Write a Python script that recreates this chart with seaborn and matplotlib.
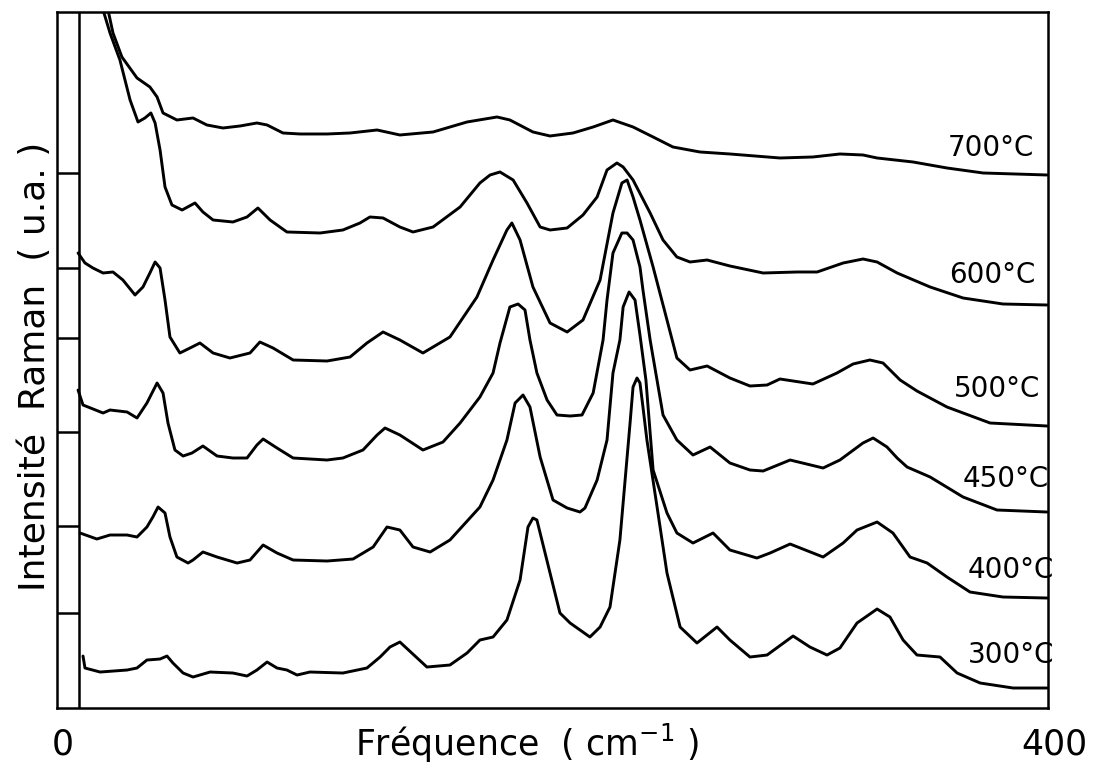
import pandas as pd
import matplotlib
matplotlib.use("Agg")
import matplotlib.pyplot as plt
import matplotlib.transforms as mtransforms
import seaborn as sns

# spectres Raman (fréquence en cm-1, intensité en u.a.)
freq_700 = [17.8, 20.6, 22.6, 26.2, 32.3, 37.5, 40.4, 42.8, 48.4, 54.9, 60.5, 67.0, 73.9, 80.7, 84.8,
            91.2, 98.1, 109.0, 118.3, 129.2, 138.4, 151.8, 165.5, 177.6, 182.8, 192.1, 199.0, 208.3,
            216.4, 224.4, 232.5, 240.6, 248.6, 259.5, 271.6, 291.8, 305.1, 316.0, 325.3, 331.0,
            345.5, 359.2, 373.8, 399.6]
int_700 = [728, 698, 675, 651, 630, 621, 611, 595, 588, 590, 583, 580, 582, 585, 583, 575, 574, 574,
           575, 578, 573, 576, 586, 591, 588, 576, 572, 575, 581, 588, 581, 571, 561, 556, 554, 550,
           551, 554, 553, 550, 546, 540, 535, 533]

freq_600 = [14.9, 18.6, 21.4, 25.4, 29.5, 32.7, 35.5, 37.9, 39.6, 41.6, 43.6, 46.4, 50.5, 55.7, 58.9,
            63.0, 71.0, 76.7, 81.1, 86.0, 92.8, 106.2, 115.4, 122.3, 126.3, 131.6, 138.4, 143.7,
            151.8, 162.7, 170.7, 174.8, 178.8, 184.1, 189.7, 195.0, 199.0, 205.9, 212.3, 218.0,
            222.0, 226.0, 228.5, 232.5, 239.4, 244.6, 250.2, 255.5, 262.4, 271.6, 285.0, 298.7,
            306.8, 317.3, 325.3, 331.0, 339.1, 352.4, 365.7, 381.8, 399.6]
int_600 = [728, 698, 675, 648, 608, 586, 590, 595, 585, 558, 521, 503, 498, 505, 496, 488, 486, 491,
           500, 488, 476, 475, 478, 485, 491, 490, 481, 476, 481, 501, 525, 533, 536, 528, 505, 481,
           478, 480, 493, 511, 538, 545, 541, 528, 495, 468, 451, 446, 448, 442, 435, 436, 436, 445,
           449, 446, 435, 421, 410, 404, 403]

freq_500 = [8.5, 11.3, 14.5, 18.6, 22.6, 26.6, 31.5, 34.7, 37.5, 39.6, 41.6, 43.6, 45.6, 49.6, 53.7,
            57.7, 63.0, 69.8, 77.9, 81.9, 87.2, 95.3, 109.0, 118.3, 125.1, 131.6, 138.4, 147.7,
            158.6, 169.5, 176.0, 181.6, 183.6, 186.9, 192.1, 199.0, 205.9, 212.3, 219.2, 224.4,
            228.0, 230.1, 232.5, 235.3, 240.6, 246.2, 250.2, 255.5, 262.4, 271.6, 279.7, 286.6,
            291.8, 305.1, 314.8, 321.3, 328.1, 333.4, 340.3, 347.1, 359.2, 376.6, 399.6]
int_500 = [455, 445, 440, 435, 436, 428, 413, 421, 435, 446, 440, 408, 371, 355, 360, 365, 355, 350,
           355, 366, 360, 348, 347, 351, 365, 376, 368, 355, 371, 411, 448, 478, 485, 468, 421, 385,
           376, 388, 428, 495, 525, 528, 511, 488, 441, 388, 350, 338, 342, 330, 322, 323, 329, 324,
           335, 344, 348, 345, 328, 317, 301, 285, 282]

freq_450 = [8.5, 10.5, 18.6, 21.4, 28.3, 32.3, 36.3, 40.4, 42.8, 44.8, 47.6, 50.9, 54.5, 58.9, 64.6,
            71.0, 76.7, 80.7, 83.2, 88.8, 95.3, 109.0, 115.4, 123.5, 129.2, 132.4, 138.4, 147.7,
            155.8, 162.7, 170.7, 176.0, 178.8, 182.8, 186.1, 188.9, 190.9, 193.7, 197.8, 201.8,
            207.1, 211.9, 216.4, 220.4, 222.0, 224.4, 228.0, 230.1, 232.5, 235.3, 236.5, 239.4,
            244.6, 250.2, 256.7, 263.6, 271.6, 279.7, 285.0, 295.9, 309.2, 316.0, 325.3, 329.4,
            335.0, 339.1, 343.1, 352.4, 365.7, 379.4, 399.6]
int_450 = [318, 303, 295, 298, 296, 290, 305, 325, 315, 285, 258, 252, 255, 262, 252, 250, 250, 263,
           269, 260, 250, 248, 250, 258, 273, 280, 273, 258, 266, 285, 311, 335, 365, 401, 404, 398,
           368, 335, 308, 293, 292, 293, 315, 368, 408, 455, 475, 475, 468, 441, 418, 368, 293, 268,
           253, 261, 245, 238, 237, 248, 240, 248, 265, 270, 261, 250, 241, 231, 211, 198, 196]

freq_400 = [9.3, 16.1, 21.4, 28.3, 32.3, 36.3, 38.7, 40.8, 43.6, 45.6, 48.4, 52.9, 54.9, 58.9, 64.6,
            72.7, 77.9, 83.2, 88.8, 95.3, 109.0, 119.5, 127.6, 133.2, 138.4, 143.7, 150.6, 158.6,
            170.7, 176.0, 181.6, 184.9, 188.1, 190.9, 195.0, 200.2, 205.9, 211.1, 213.1, 218.0,
            222.0, 224.4, 227.2, 228.5, 230.9, 233.3, 235.3, 237.7, 240.6, 246.2, 250.2, 256.7,
            264.8, 271.6, 282.5, 287.8, 295.9, 309.2, 317.3, 322.9, 331.0, 337.4, 344.3, 351.2,
            359.2, 368.5, 381.8, 399.6]
int_400 = [175, 169, 173, 173, 171, 181, 191, 201, 195, 171, 151, 145, 148, 156, 151, 145, 148, 163,
           155, 148, 147, 149, 161, 181, 178, 161, 156, 168, 201, 228, 268, 305, 313, 301, 251, 208,
           200, 196, 200, 228, 268, 335, 368, 401, 416, 408, 373, 328, 238, 195, 175, 165, 175, 158,
           150, 155, 164, 151, 165, 178, 186, 175, 151, 145, 131, 116, 111, 110]

freq_300 = [10.5, 11.3, 17.4, 28.3, 32.3, 36.3, 41.6, 44.4, 46.8, 50.9, 54.9, 61.8, 71.0, 76.7, 80.7,
            84.8, 88.8, 92.8, 96.9, 102.1, 115.4, 125.1, 130.4, 134.4, 138.4, 149.3, 158.6, 165.5,
            170.7, 176.0, 181.6, 186.9, 190.1, 192.1, 193.7, 195.0, 199.0, 203.0, 207.1, 211.1,
            215.1, 219.2, 223.2, 227.2, 231.3, 232.5, 234.1, 235.3, 236.5, 238.1, 242.2, 246.2,
            251.5, 258.3, 266.4, 271.6, 279.7, 286.6, 297.1, 303.9, 310.8, 316.0, 322.9, 331.0,
            336.2, 341.5, 347.1, 356.4, 363.3, 372.6, 385.9, 399.6]
int_300 = [52, 40, 36, 38, 40, 48, 49, 52, 45, 35, 31, 36, 35, 32, 38, 46, 40, 38, 33, 36, 35, 40,
           51, 61, 66, 41, 43, 55, 68, 71, 88, 128, 181, 190, 188, 175, 135, 95, 85, 78, 71, 81,
           101, 168, 285, 321, 330, 325, 301, 268, 201, 135, 81, 65, 81, 68, 51, 53, 72, 61, 53,
           60, 85, 99, 91, 68, 53, 51, 35, 25, 20, 20]

temperatures = ["700°C", "600°C", "500°C", "450°C", "400°C", "300°C"]
# repères de ligne de base sur le bord gauche
baseline_marks = [535, 440, 370, 276, 182, 95]

spectra = {
    "700°C": (freq_700, int_700),
    "600°C": (freq_600, int_600),
    "500°C": (freq_500, int_500),
    "450°C": (freq_450, int_450),
    "400°C": (freq_400, int_400),
    "300°C": (freq_300, int_300),
}

frames = []
for t in temperatures:
    f, i = spectra[t]
    frames.append(pd.DataFrame({"freq": f, "intensite": i, "temp": t}))
df = pd.concat(frames, ignore_index=True)

sns.set_theme(style="white")
plt.rcParams["font.family"] = ["DejaVu Sans"]
plt.rcParams["text.color"] = "black"

fig = plt.figure(figsize=(10.98, 7.68), dpi=100)
ax = fig.add_axes([0.0519, 0.0781, 0.9026, 0.9063])

sns.lineplot(data=df, x="freq", y="intensite", hue="temp",
             palette={t: "black" for t in temperatures},
             estimator=None, sort=False, legend=False,
             linewidth=2.1, solid_joinstyle="round", solid_capstyle="round", ax=ax)

ax.set_xlim(0, 400)
ax.set_ylim(0, 696)

ax.axvline(9, color="black", lw=1.8)
ax.hlines(baseline_marks, 0, 9, color="black", lw=1.8)

label_pos = [(377, 560), (377.5, 433), (379.5, 319), (383, 229), (385, 138), (385, 53)]
for t, (lx, ly) in zip(temperatures, label_pos):
    ax.text(lx, ly, t, ha="center", va="center", fontsize=20, color="black")

for s in ax.spines.values():
    s.set_visible(True)
    s.set_color("black")
    s.set_linewidth(1.8)

ax.set_xticks([0, 400])
ax.set_xticklabels(["0", "400"])
ax.set_yticks([])
ax.tick_params(axis="x", length=0, pad=14, labelsize=25, colors="black")
shift = mtransforms.ScaledTranslation(6 / 100, 0, fig.dpi_scale_trans)
for lab in ax.get_xticklabels():
    lab.set_transform(lab.get_transform() + shift)
ax.set_xlabel("")
ax.set_ylabel("")

fig.text(0.48, 0.015, "Fréquence  ( cm$^{-1}$ )", ha="center", va="baseline",
         fontsize=25, color="black")
fig.text(0.032, 0.523, "Intensité  Raman  ( u.a. )", ha="center", va="center",
         rotation=90, fontsize=26, color="black")

plt.savefig("out.png", dpi=100)
